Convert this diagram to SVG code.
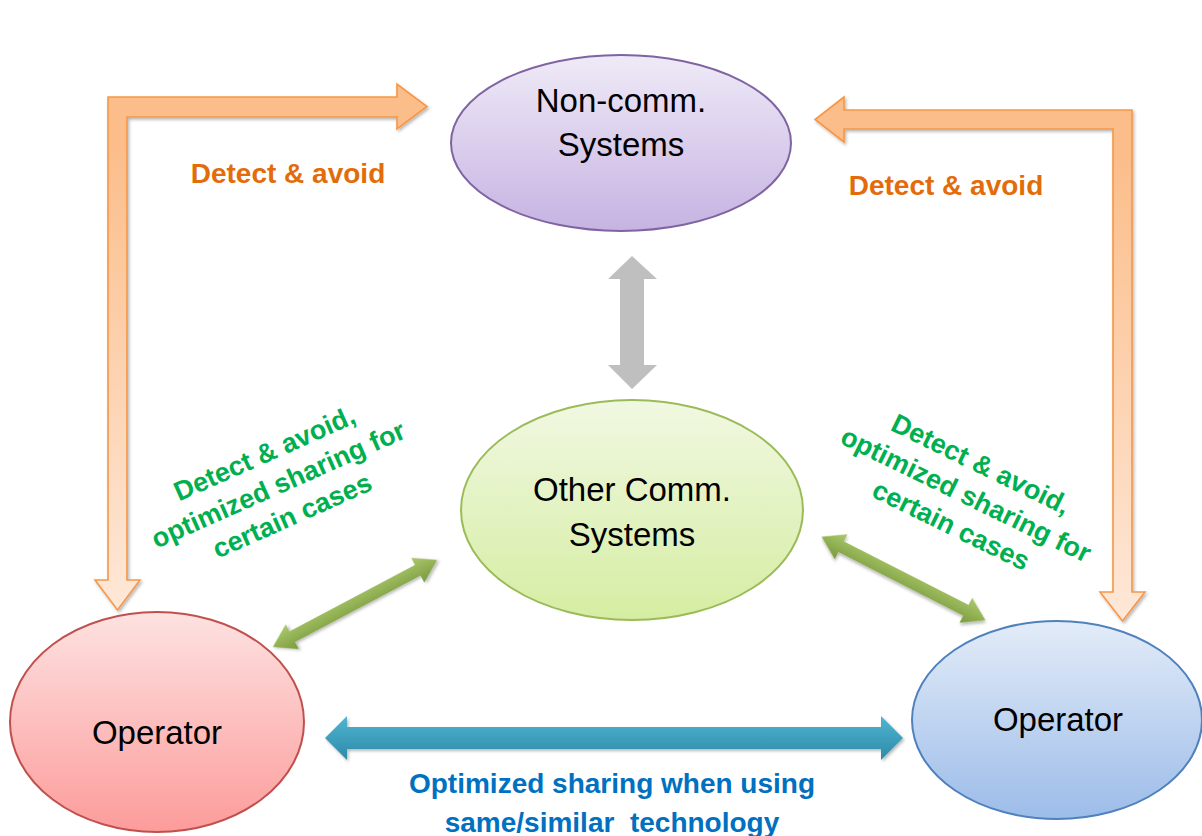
<svg xmlns="http://www.w3.org/2000/svg" width="1202" height="836" viewBox="0 0 1202 836">
  <defs>
    <linearGradient id="gPurple" x1="0" y1="0" x2="0" y2="1">
      <stop offset="0" stop-color="#efeaf7"/>
      <stop offset="1" stop-color="#c6b3e2"/>
    </linearGradient>
    <linearGradient id="gGreen" x1="0" y1="0" x2="0" y2="1">
      <stop offset="0" stop-color="#f1f8e2"/>
      <stop offset="1" stop-color="#d5eda2"/>
    </linearGradient>
    <linearGradient id="gRed" x1="0" y1="0" x2="0" y2="1">
      <stop offset="0" stop-color="#fde2e1"/>
      <stop offset="1" stop-color="#fc9c9b"/>
    </linearGradient>
    <linearGradient id="gBlue" x1="0" y1="0" x2="0" y2="1">
      <stop offset="0" stop-color="#e3ecf8"/>
      <stop offset="1" stop-color="#9cbce9"/>
    </linearGradient>
    <linearGradient id="gOrange" x1="0" y1="0" x2="0" y2="1" gradientUnits="objectBoundingBox">
      <stop offset="0" stop-color="#fbbd89"/>
      <stop offset="0.1" stop-color="#fbbd89"/>
      <stop offset="1" stop-color="#fee8d8"/>
    </linearGradient>
    <linearGradient id="gOlive" x1="0" y1="0" x2="0" y2="1">
      <stop offset="0" stop-color="#abca6c"/>
      <stop offset="1" stop-color="#7a9a3e"/>
    </linearGradient>
    <linearGradient id="gTeal" x1="0" y1="0" x2="0" y2="1">
      <stop offset="0" stop-color="#4fb5d2"/>
      <stop offset="1" stop-color="#2d8aa8"/>
    </linearGradient>
    <filter id="shadow" x="-10%" y="-10%" width="120%" height="130%">
      <feDropShadow dx="1.5" dy="2" stdDeviation="1.8" flood-color="#000" flood-opacity="0.28"/>
    </filter>
  </defs>
  <style>
    .label { font-family: "Liberation Sans", Arial, sans-serif; fill: #000; font-size: 33px; text-anchor: middle; }
    .note { font-family: "Liberation Sans", Arial, sans-serif; font-weight: bold; font-size: 28px; text-anchor: middle; }
    .orange { fill: #e36c0a; }
    .green { fill: #00b050; font-size: 27px; }
    .blue { fill: #0070c0; }
    .bent { fill: url(#gOrange); stroke: #f79646; stroke-width: 1.6; stroke-linejoin: miter; filter: url(#shadow); }
  </style>

  <rect width="1202" height="836" fill="#ffffff"/>

  <!-- connectors -->
  <g id="connectors">
    <!-- left bent arrow: operator up and over to non-comm systems -->
    <path class="bent" d="M108,580 L108,97 L397,97 L397,84 L427,106.5 L397,129 L397,117 L127,117 L127,580 L140,580 L117.5,610 L95,580 Z"/>
    <!-- right bent arrow -->
    <path class="bent" d="M844,110 L1132,110 L1132,592 L1145,592 L1122.5,621 L1100,592 L1113,592 L1113,129 L844,129 L844,142 L815,119.5 L844,97 Z"/>
    <!-- vertical double arrow between systems -->
    <path fill="#bfbfbf" d="M632,256 L657,279 L644,279 L644,365 L657,365 L632,389 L608,365 L620,365 L620,279 L608,279 Z"/>
    <!-- diagonal double arrows to other comm systems -->
    <g transform="translate(355,603.5) rotate(-27.9)" filter="url(#shadow)">
      <path fill="url(#gOlive)" d="M-93,0 L-71,-14 L-71,-6 L71,-6 L71,-14 L93,0 L71,14 L71,6 L-71,6 L-71,14 Z"/>
    </g>
    <g transform="translate(903.5,578.5) rotate(27)" filter="url(#shadow)">
      <path fill="url(#gOlive)" d="M-92,0 L-70,-14 L-70,-6 L70,-6 L70,-14 L92,0 L70,14 L70,6 L-70,6 L-70,14 Z"/>
    </g>
    <!-- horizontal double arrow between operators -->
    <path fill="url(#gTeal)" filter="url(#shadow)" d="M325,738 L347,716 L347,727 L881,727 L881,716 L903,738 L881,760 L881,749 L347,749 L347,760 Z"/>
  </g>

  <!-- nodes -->
  <g id="non-comm-systems">
    <ellipse cx="621" cy="143" rx="170" ry="88" fill="url(#gPurple)" stroke="#8064a2" stroke-width="2"/>
    <text class="label" x="621" y="112">Non-comm.</text>
    <text class="label" x="621" y="156">Systems</text>
  </g>
  <g id="other-comm-systems">
    <ellipse cx="632" cy="510" rx="171" ry="110" fill="url(#gGreen)" stroke="#9bbb59" stroke-width="2"/>
    <text class="label" x="632" y="501">Other Comm.</text>
    <text class="label" x="632" y="546">Systems</text>
  </g>
  <g id="operator-left">
    <ellipse cx="157" cy="722" rx="147" ry="110" fill="url(#gRed)" stroke="#c0504d" stroke-width="2"/>
    <text class="label" x="157" y="744">Operator</text>
  </g>
  <g id="operator-right">
    <ellipse cx="1057" cy="720" rx="145" ry="99" fill="url(#gBlue)" stroke="#4f81bd" stroke-width="2"/>
    <text class="label" x="1058" y="731">Operator</text>
  </g>

  <!-- connector labels -->
  <g id="labels">
    <text class="note orange" x="288" y="183">Detect &amp; avoid</text>
    <text class="note orange" x="946" y="195">Detect &amp; avoid</text>

    <g transform="translate(282,493) rotate(-24)">
      <text class="note green" x="0" y="-34">Detect &amp; avoid,</text>
      <text class="note green" x="0" y="0">optimized sharing for</text>
      <text class="note green" x="0" y="34">certain cases</text>
    </g>
    <g transform="translate(962,503) rotate(26)">
      <text class="note green" x="0" y="-34">Detect &amp; avoid,</text>
      <text class="note green" x="0" y="0">optimized sharing for</text>
      <text class="note green" x="0" y="34">certain cases</text>
    </g>

    <text class="note blue" x="612" y="793">Optimized sharing when using</text>
    <text class="note blue" x="612" y="832" xml:space="preserve">same/similar  technology</text>
  </g>
</svg>
